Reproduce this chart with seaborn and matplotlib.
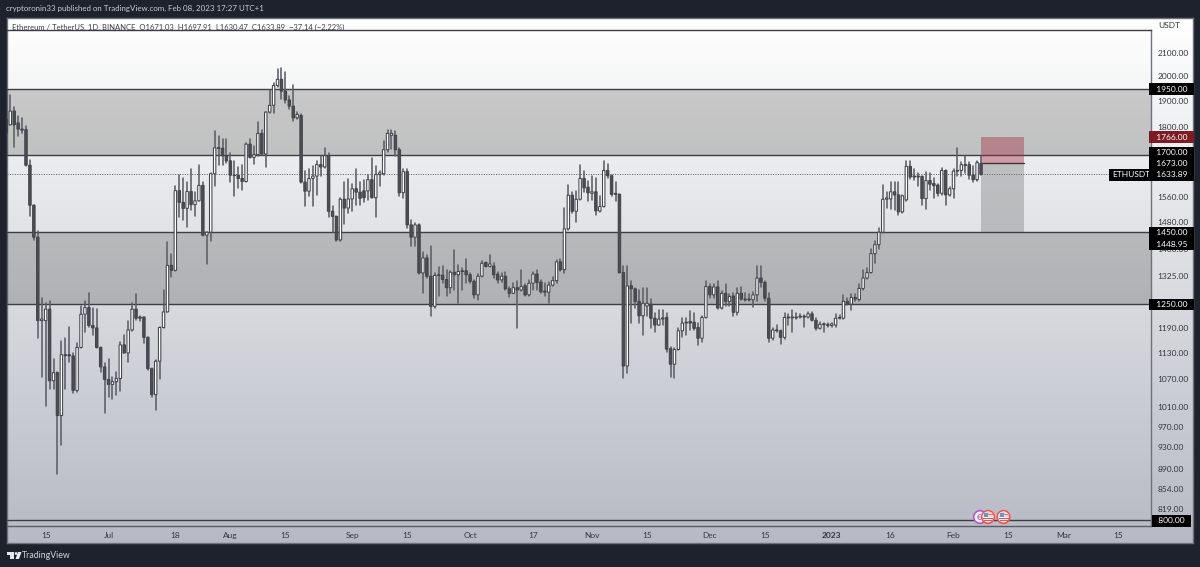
import numpy as np
import pandas as pd
import seaborn as sns
import matplotlib.pyplot as plt
from matplotlib.colors import LinearSegmentedColormap
from matplotlib.patches import Circle, Polygon, Rectangle, Wedge
from matplotlib.transforms import blended_transform_factory

# daily candles, 2022-06-05 -> 2023-02-08
opens = [1830,1810,1862,1817,1794,1792,1665,1533,1435,1208,
         1208,1237,1067,1085,993,1126,1126,1123,1046,1143,
         1224,1241,1196,1190,1143,1098,1070,1059,1065,1072,
         1149,1130,1185,1237,1217,1217,1167,1094,1037,1111,
         1191,1230,1354,1340,1580,1542,1523,1577,1535,1547,
         1597,1441,1450,1636,1726,1724,1698,1680,1631,1630,
         1620,1610,1739,1692,1702,1778,1704,1858,1884,1963,
         1988,1940,1905,1881,1836,1845,1608,1578,1620,1628,
         1667,1659,1698,1514,1498,1427,1552,1524,1553,1586,
         1575,1579,1579,1616,1557,1633,1636,1719,1771,1771,
         1719,1573,1643,1472,1435,1472,1333,1375,1324,1244,
         1326,1327,1315,1293,1335,1328,1337,1339,1328,1310,
         1274,1324,1362,1351,1352,1330,1314,1324,1290,1278,
         1293,1287,1298,1274,1305,1330,1308,1284,1281,1300,
         1312,1364,1342,1460,1565,1514,1552,1620,1591,1571,
         1576,1515,1529,1647,1629,1571,1568,1334,1100,1298,
         1290,1257,1220,1245,1250,1214,1197,1212,1216,1140,
         1104,1138,1183,1202,1206,1204,1191,1165,1216,1296,
         1274,1295,1240,1278,1257,1271,1229,1278,1263,1263,
         1261,1274,1319,1307,1265,1165,1185,1183,1167,1215,
         1217,1217,1217,1219,1217,1225,1209,1189,1200,1198,
         1196,1197,1214,1214,1257,1250,1267,1262,1291,1319,
         1334,1387,1413,1450,1552,1553,1576,1566,1512,1550,
         1661,1628,1628,1627,1554,1613,1603,1598,1571,1647,
         1566,1586,1645,1647,1667,1667,1632,1616,1671]
highs = [1836,1924,1879,1843,1835,1806,1684,1535,1455,1267,
         1252,1257,1115,1087,1158,1165,1193,1129,1153,1244,
         1257,1278,1240,1237,1145,1106,1115,1076,1086,1157,
         1173,1206,1254,1275,1220,1218,1169,1095,1113,1193,
         1287,1421,1387,1594,1633,1622,1607,1652,1577,1667,
         1607,1452,1639,1788,1768,1756,1756,1706,1680,1659,
         1664,1744,1756,1734,1821,1792,1860,1946,1971,2030,
         2037,2019,1920,1963,1858,1849,1645,1651,1661,1678,
         1696,1726,1708,1532,1500,1556,1609,1618,1600,1652,
         1609,1616,1633,1689,1661,1645,1750,1792,1792,1786,
         1726,1652,1652,1486,1478,1474,1392,1383,1408,1332,
         1350,1351,1342,1337,1398,1355,1346,1371,1334,1314,
         1331,1367,1364,1383,1360,1336,1332,1336,1296,1305,
         1310,1342,1302,1314,1336,1342,1314,1305,1307,1323,
         1369,1371,1524,1597,1577,1580,1667,1645,1611,1627,
         1622,1561,1680,1670,1633,1607,1570,1351,1351,1310,
         1293,1288,1292,1292,1262,1227,1235,1235,1227,1145,
         1141,1190,1215,1214,1231,1227,1202,1219,1310,1302,
         1302,1310,1284,1304,1275,1278,1292,1296,1280,1276,
         1282,1351,1351,1310,1278,1189,1197,1185,1227,1225,
         1235,1227,1225,1221,1229,1229,1214,1205,1202,1203,
         1203,1225,1221,1274,1265,1277,1275,1302,1342,1346,
         1401,1425,1462,1599,1576,1609,1609,1609,1566,1678,
         1680,1652,1639,1629,1641,1639,1620,1603,1655,1650,
         1593,1652,1724,1675,1696,1675,1661,1681,1698]
lows = [1775,1808,1730,1768,1780,1661,1500,1426,1165,1076,
        1013,1050,1050,881,935,1050,1109,1041,1043,1141,
        1181,1193,1173,1141,1087,998,1032,1027,1036,1044,
        1129,1109,1183,1210,1208,1153,1091,1032,1004,1070,
        1189,1230,1321,1337,1496,1488,1465,1519,1498,1545,
        1438,1357,1423,1594,1667,1667,1672,1608,1561,1587,
        1582,1607,1690,1670,1696,1702,1659,1856,1856,1958,
        1907,1894,1868,1823,1830,1605,1529,1561,1532,1566,
        1628,1656,1495,1452,1424,1424,1475,1509,1514,1535,
        1535,1542,1550,1555,1497,1594,1633,1710,1722,1698,
        1563,1555,1462,1408,1410,1331,1280,1319,1219,1240,
        1270,1305,1270,1278,1287,1252,1287,1305,1305,1265,
        1261,1322,1349,1349,1319,1305,1308,1288,1268,1278,
        1189,1284,1270,1270,1287,1287,1278,1270,1252,1298,
        1305,1337,1333,1457,1509,1482,1550,1577,1545,1550,
        1502,1513,1527,1622,1561,1545,1333,1072,1085,1202,
        1240,1202,1173,1219,1189,1181,1197,1197,1133,1076,
        1074,1136,1169,1173,1185,1185,1149,1157,1214,1265,
        1265,1238,1238,1244,1244,1219,1223,1261,1257,1257,
        1242,1257,1296,1257,1155,1161,1181,1151,1163,1197,
        1181,1211,1214,1193,1214,1207,1185,1187,1179,1191,
        1192,1193,1212,1211,1248,1235,1257,1257,1287,1316,
        1333,1362,1401,1449,1524,1521,1519,1502,1509,1545,
        1618,1616,1594,1535,1521,1581,1555,1561,1566,1535,
        1561,1557,1628,1628,1639,1618,1609,1612,1630]
closes = [1780,1862,1810,1794,1790,1665,1533,1435,1208,1212,
          1237,1067,1085,993,1126,1124,1123,1046,1143,1224,
          1241,1196,1190,1143,1098,1070,1059,1065,1072,1149,
          1130,1185,1237,1214,1214,1167,1094,1037,1111,1191,
          1230,1354,1340,1580,1542,1523,1577,1535,1547,1597,
          1441,1450,1636,1726,1724,1698,1680,1631,1630,1620,
          1610,1739,1692,1702,1778,1704,1858,1884,1963,1988,
          1940,1905,1881,1836,1849,1608,1578,1620,1628,1667,
          1659,1698,1514,1498,1427,1552,1524,1553,1586,1575,
          1555,1557,1616,1557,1633,1639,1719,1778,1778,1719,
          1573,1643,1472,1435,1472,1333,1375,1324,1244,1326,
          1328,1315,1293,1335,1328,1337,1339,1328,1310,1274,
          1324,1360,1351,1358,1328,1314,1324,1290,1278,1293,
          1287,1296,1274,1305,1330,1307,1282,1281,1300,1312,
          1364,1342,1460,1565,1514,1552,1620,1589,1573,1576,
          1515,1529,1647,1629,1568,1568,1334,1100,1298,1290,
          1257,1220,1252,1252,1214,1197,1212,1215,1139,1104,
          1138,1183,1202,1204,1202,1189,1165,1216,1296,1274,
          1295,1240,1278,1257,1270,1229,1278,1263,1261,1261,
          1274,1319,1307,1265,1165,1185,1183,1167,1216,1217,
          1215,1215,1219,1217,1225,1209,1189,1199,1198,1196,
          1200,1214,1216,1257,1250,1267,1263,1291,1319,1334,
          1387,1413,1450,1552,1556,1576,1566,1512,1563,1661,
          1625,1625,1625,1554,1613,1601,1596,1571,1647,1566,
          1586,1645,1647,1667,1664,1631,1616,1674,1634]

zones = [(1700, 1950), (1250, 1450)]
level_lines = [1950, 1700, 1450, 1250, 800]
last_price = 1633.89
stop_price = 1766
entry_price = 1673
target_price = 1450
price_ticks = [2100, 2000, 1900, 1800, 1560, 1480, 1400, 1325, 1190, 1130,
               1070, 1010, 970, 930, 890, 854, 819]
tag_prices = [1950, 1766, 1700, 1673, 1633.89, 1450, 1448.95, 1250, 800]
tag_colors = ['#000000', '#7d1a24', '#000000', '#000000', '#000000', '#000000', '#000000', '#000000', '#000000']
tag_shift_px = [0, 0, 3, 0, 0, 0, -11, 0, 0]
time_dates = ['2022-06-15', '2022-07-01', '2022-07-18', '2022-08-01', '2022-08-15', '2022-09-01',
              '2022-09-15', '2022-10-01', '2022-10-17', '2022-11-01', '2022-11-15', '2022-12-01',
              '2022-12-15', '2023-01-01', '2023-01-16', '2023-02-01', '2023-02-15', '2023-03-01',
              '2023-03-15']
time_labels = ['15', 'Jul', '18', 'Aug', '15', 'Sep', '15', 'Oct', '17', 'Nov', '15', 'Dec',
               '15', '2023', '16', 'Feb', '15', 'Mar', '15']

W, H = 1200, 567
dates = pd.date_range('2022-06-05', periods=len(closes), freq='D')
df = pd.DataFrame({'date': dates, 'open': opens, 'high': highs, 'low': lows, 'close': closes})
df['top'] = df[['open', 'close']].max(axis=1)
df['bottom'] = df[['open', 'close']].min(axis=1)
df['up'] = df['close'] >= df['open']
wicks = df.melt(id_vars='date', value_vars=['high', 'low'], value_name='price').sort_values('date')

sns.set_theme(style='white')
plt.rcParams['font.family'] = ['Lato', 'DejaVu Sans']
TEXT = '#34363e'
FS = 6.0

fig = plt.figure(figsize=(W / 100, H / 100), dpi=100, facecolor='#1e222d')

# full panel with the vertical gradient
bg = fig.add_axes([7 / W, 1 - 543 / H, (1193 - 7) / W, (543 - 18) / H], zorder=0)
cmap = LinearSegmentedColormap.from_list('panel', ['#ffffff', '#b7bac4'])
bg.imshow(np.linspace(0, 1, 256).reshape(-1, 1), aspect='auto', cmap=cmap)
bg.set_xticks([])
bg.set_yticks([])
for s in bg.spines.values():
    s.set_color('#6f727c')
    s.set_linewidth(1)

ax = fig.add_axes([7 / W, 1 - 526 / H, (1151 - 7) / W, (526 - 30) / H], zorder=1)
ax.patch.set_alpha(0)
ax.set_yscale('log')
ax.set_ylim(790.6, 2201)
ax.set_xlim(pd.Timestamp('2022-06-05 04:00'), pd.Timestamp('2023-03-23 06:00'))

for low, high in zones:
    ax.axhspan(low, high, color='#14140c', alpha=0.2, lw=0, zorder=1)
for lv in level_lines:
    ax.axhline(lv, color='#3c3e44', lw=1, zorder=2)
ax.axhline(last_price, color='#55575e', lw=0.7, ls=(0, (1, 1.5)), zorder=2)

# short position box
box_left, box_right = pd.Timestamp('2023-02-08'), pd.Timestamp('2023-02-19')
ax.fill_between([box_left, box_right], entry_price, stop_price, color='#a02a3c', alpha=0.4, lw=0, zorder=2)
ax.fill_between([box_left, box_right], target_price, entry_price, color='#6e6e6e', alpha=0.35, lw=0, zorder=2)
ax.plot([box_left, box_right], [entry_price, entry_price], color='#4a3034', lw=1, zorder=3)

sns.lineplot(data=wicks, x='date', y='price', units='date', estimator=None, color='#5c5e66',
             lw=1.15, legend=False, ax=ax, zorder=4)
bars = ax.bar(df['date'], df['top'] - df['bottom'], bottom=df['bottom'], width=0.62,
              color=['#ffffff' if u else '#4b4d55' for u in df['up']], edgecolor='#43454c', lw=0.75, zorder=5)
for b in bars:
    b.set_snap(False)

ax.set_xlabel('')
ax.set_ylabel('')
ax.yaxis.tick_right()
ax.set_yticks(price_ticks, [f'{p:.2f}' for p in price_ticks])
ax.minorticks_off()
ax.tick_params(axis='y', length=0, pad=4.5, labelsize=FS, labelcolor=TEXT)
ax.set_xticks(pd.to_datetime(time_dates), time_labels)
ax.tick_params(axis='x', length=0, pad=4.5, labelsize=FS, labelcolor=TEXT)
for lab, txt in zip(ax.get_xticklabels(), time_labels):
    if txt == '2023':
        lab.set_fontweight('bold')
sns.despine(ax=ax, left=True, right=False, top=False, bottom=False)
ax.spines['top'].set_color('#3c3e44')
ax.spines['right'].set_color('#6f727c')
ax.spines['bottom'].set_color('#5a5c64')
for s in ax.spines.values():
    s.set_linewidth(1)

# price tags on the axis
trans = blended_transform_factory(ax.transAxes, ax.transData)
tag_x = 1 + 20.5 / (1151 - 7)
for p, c, shift in zip(tag_prices, tag_colors, tag_shift_px):
    ax.annotate(f'\u00a0\u00a0{p:.2f}\u00a0\u00a0', (tag_x, p), xycoords=trans, xytext=(0, shift * 0.72),
                textcoords='offset points', ha='center', va='center_baseline', fontsize=FS, color='white',
                annotation_clip=False, zorder=20,
                bbox=dict(boxstyle='square,pad=0.28', fc=c, ec='none'))
ax.text(1 - 20 / (1151 - 7), last_price, 'ETHUSDT', transform=trans, ha='center', va='center_baseline', fontsize=FS,
        color='white', zorder=19, clip_on=False, bbox=dict(boxstyle='square,pad=0.3', fc='#000000', ec='none'))

# pixel layer for the page furniture
over = fig.add_axes([0, 0, 1, 1], zorder=5)
over.set_xlim(0, W)
over.set_ylim(H, 0)
over.axis('off')
over.text(6, 8.5, 'cryptoronin33 published on TradingView.com, Feb 08, 2023 17:27 UTC+1', color='#c9ccd3',
          fontsize=5.7, va='center')
over.text(12, 27, 'Ethereum / TetherUS, 1D, BINANCE  O1671.03  H1697.91  L1630.47  C1633.89  \u221237.14 (\u22122.22%)',
          color='#3c3e46', fontsize=5.5, va='center', zorder=1)
over.text(1158, 26, 'USDT', color=TEXT, fontsize=FS, va='center')
over.text(22, 555.5, 'TradingView', color='#d1d4dc', fontsize=6.3, va='center')

# TradingView logo
over.add_patch(Rectangle((7, 552), 7, 2.5, color='#e6e8ee', lw=0))
over.add_patch(Rectangle((10, 552), 3.5, 7, color='#e6e8ee', lw=0))
over.add_patch(Circle((16, 553.5), 1.4, color='#e6e8ee', lw=0))
over.add_patch(Polygon([(18, 552), (21.5, 552), (19, 559), (15.5, 559)], color='#e6e8ee', lw=0))

# event badges above the time axis
over.add_patch(Circle((980, 517), 6.3, fc='#f4eef8', ec='#b05cc8', lw=1.2))
over.text(979.5, 517, '\u20ac', color='#9c4ab8', fontsize=5.5, ha='center', va='center')
for cx in (988, 1003.5):
    over.add_patch(Circle((cx, 517), 6.3, fc='#f7f3f3', ec='#ef5350', lw=1.2))
    over.add_patch(Wedge((cx, 517), 5.6, 180, 360, fc='#f4d3d3', lw=0))
    over.add_patch(Rectangle((cx - 3.6, 512.5), 3.6, 4, color='#5b9bd5', lw=0))
    over.add_patch(Rectangle((cx, 513.5), 4.5, 1, color='#ef7a78', lw=0))
    over.add_patch(Rectangle((cx - 5, 517.5), 10, 1.2, color='#ef5350', lw=0))
    over.add_patch(Rectangle((cx - 4, 520), 8, 1, color='#ef5350', lw=0))

fig.savefig('out.png', dpi=100, facecolor=fig.get_facecolor())
